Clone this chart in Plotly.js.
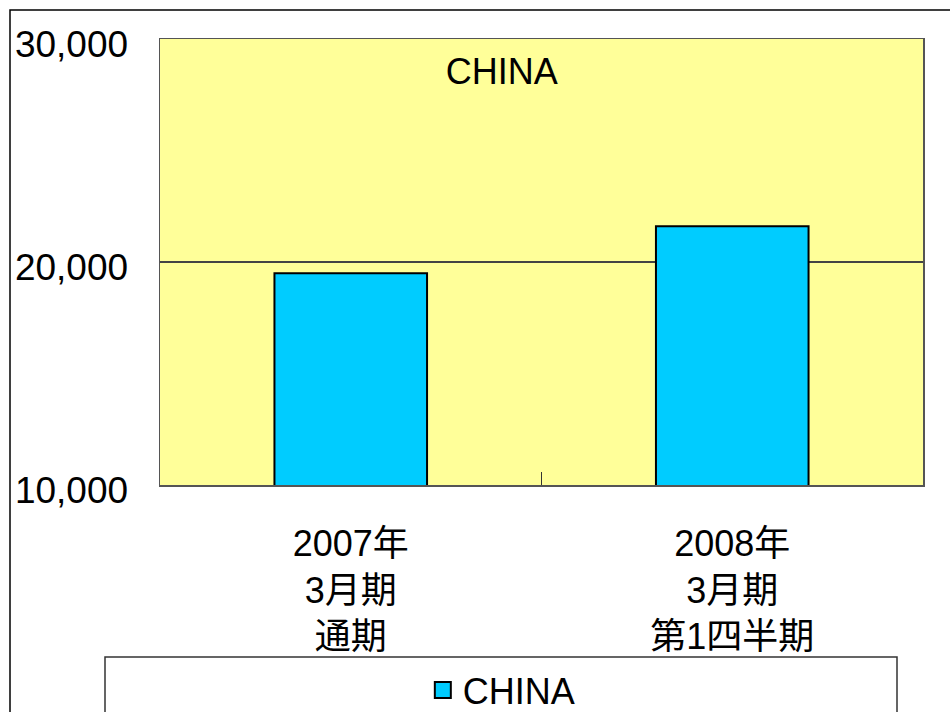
<!DOCTYPE html>
<html>
<head>
<meta charset="utf-8">
<script src="https://cdn.plot.ly/plotly-3.0.1.min.js"></script>
<style>
html,body{margin:0;padding:0;background:#fff;}
#chart{width:950px;height:712px;}
</style>
</head>
<body>
<div id="chart"></div>
<script>
const categories = ["2007年<br>3月期<br>通期", "2008年<br>3月期<br>第1四半期"];
const chinaValues = [19500, 21600];
const seriesName = "CHINA";
const yTickVals = [10000, 20000, 30000];
const yTickText = ["10,000", "20,000", "30,000"];

const FONT = '"Liberation Sans", Arial, "Noto Sans CJK JP", sans-serif';
const CYAN = '#00CCFF';

const traces = [
  {
    type: 'bar',
    x: categories,
    y: chinaValues,
    name: seriesName,
    showlegend: false,
    marker: {color: CYAN, line: {color: '#000', width: 2}},
    hoverinfo: 'skip'
  },
  {
    type: 'scatter',
    mode: 'markers',
    x: [categories[0]],
    y: [null],
    name: seriesName,
    marker: {symbol: 'square', size: 22, color: CYAN, line: {color: '#000', width: 2}},
    showlegend: true
  }
];

const layout = {
  width: 950,
  height: 712,
  margin: {l: 160, r: 27, t: 39, b: 227, autoexpand: false},
  paper_bgcolor: '#fff',
  plot_bgcolor: '#FFFF99',
  font: {family: FONT, size: 36, color: '#000'},
  bargap: 0.6,
  showlegend: true,
  title: {
    text: 'CHINA',
    font: {family: FONT, size: 36, color: '#000'},
    xref: 'paper', x: 0.448, xanchor: 'center',
    yref: 'container', y: 1 - 71/712, yanchor: 'middle'
  },
  xaxis: {
    type: 'category',
    showgrid: false,
    showline: true, mirror: true, linecolor: '#555', linewidth: 1.5,
    ticks: 'inside', ticklen: 13, tickcolor: '#333', tickwidth: 1,
    tickson: 'boundaries',
    tickfont: {family: FONT, size: 36, color: '#000'},
    ticklabelstandoff: 26,
    zeroline: false,
    fixedrange: true,
    automargin: false
  },
  yaxis: {
    range: [10000, 30000],
    tickvals: yTickVals,
    ticktext: yTickText,
    showgrid: true, gridcolor: '#444', gridwidth: 1.2,
    showline: true, mirror: true, linecolor: '#555', linewidth: 1.5,
    ticks: '',
    tickfont: {family: FONT, size: 37, color: '#000'},
    ticklabelstandoff: 23,
    ticklabelshift: 5,
    zeroline: false,
    fixedrange: true,
    automargin: false
  },
  legend: {
    orientation: 'h',
    x: 0.448, xanchor: 'center',
    y: -0.46, yanchor: 'middle',
    bgcolor: 'rgba(0,0,0,0)',
    borderwidth: 0,
    font: {family: FONT, size: 36, color: '#000'}
  },
  shapes: [
    {type: 'rect', xref: 'paper', yref: 'paper',
     x0: -150/763, x1: 1.2, y0: -1, y1: 1 + 29/446,
     line: {color: '#000', width: 1.5}, fillcolor: 'rgba(0,0,0,0)', layer: 'below'},
    {type: 'rect', xref: 'paper', yref: 'paper',
     x0: -55/763, x1: 737/763, y0: -1, y1: -(657-485)/446,
     line: {color: '#333', width: 1.5}, fillcolor: '#fff', layer: 'below'}
  ]
};

Plotly.newPlot('chart', traces, layout, {displayModeBar: false, staticPlot: true});
</script>
</body>
</html>
